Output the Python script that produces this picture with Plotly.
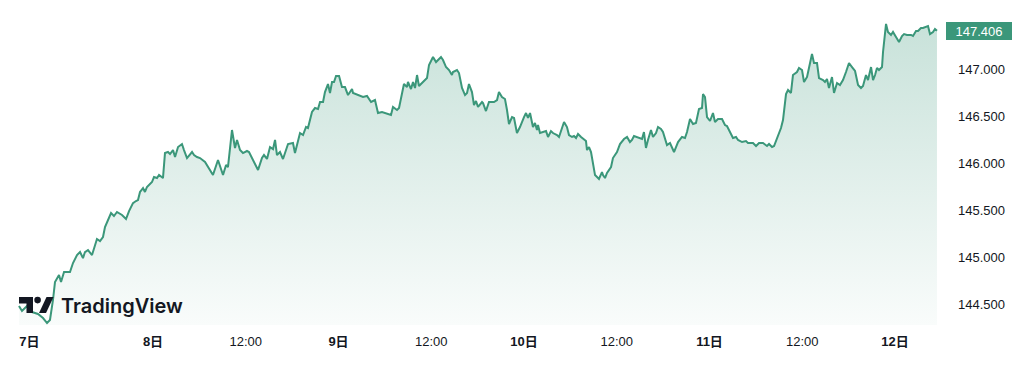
import plotly.graph_objects as go

# Hours elapsed since 7日 00:00 (JST) and USD/JPY price
hours = [6.66, 7.05, 7.70, 8.35, 9.12, 9.77, 10.29, 10.67, 11.06, 11.32, 11.84, 12.10, 12.49, 13.26, 13.65,
         14.17, 14.56, 14.94, 15.20, 15.59, 16.11, 16.50, 16.75, 17.14, 17.53, 17.79, 18.18, 18.57, 18.95,
         19.34, 19.99, 20.51, 20.90, 21.41, 21.80, 22.06, 22.32, 22.71, 22.96, 23.22, 23.87, 24.13, 24.52,
         24.78, 25.29, 25.55, 25.94, 26.20, 26.59, 26.85, 27.24, 27.75, 28.01, 28.40, 29.05, 29.31, 29.69,
         30.08, 30.73, 31.12, 31.76, 32.41, 33.06, 33.45, 33.70, 34.22, 34.61, 34.87, 35.26, 35.64, 36.16,
         36.42, 36.94, 37.59, 38.10, 38.36, 38.75, 39.14, 39.53, 39.79, 40.04, 40.43, 40.82, 41.47, 42.11,
         42.37, 43.02, 43.41, 43.80, 44.05, 44.57, 44.96, 45.35, 45.61, 46.00, 46.25, 46.64, 46.90, 47.16,
         47.42, 47.68, 48.07, 48.45, 48.84, 49.23, 49.75, 49.88, 50.52, 51.17, 51.69, 52.21, 52.72, 53.11,
         53.63, 54.28, 54.79, 55.05, 55.57, 55.83, 56.21, 56.47, 56.86, 56.99, 57.38, 57.64, 57.90, 58.16,
         58.41, 58.93, 59.45, 59.71, 60.10, 60.23, 60.62, 61.26, 61.52, 61.91, 62.30, 62.68, 62.81, 63.33,
         63.59, 63.98, 64.37, 64.63, 64.88, 65.27, 65.53, 65.79, 66.05, 66.57, 66.70, 67.08, 67.47, 68.12,
         68.51, 68.76, 69.15, 69.54, 69.80, 70.06, 70.45, 70.71, 71.09, 71.48, 72.00, 72.26, 72.52, 72.78,
         73.16, 73.42, 73.68, 73.81, 74.07, 74.46, 74.85, 75.11, 75.49, 75.75, 76.27, 76.53, 76.92, 77.18,
         77.56, 77.82, 78.21, 78.47, 78.73, 78.99, 79.38, 79.76, 80.02, 80.15, 80.41, 80.67, 80.93, 81.19,
         81.45, 81.70, 82.09, 82.22, 82.48, 82.74, 83.26, 83.51, 84.03, 84.42, 84.94, 85.33, 85.71, 85.97,
         86.23, 86.62, 87.27, 87.52, 87.78, 88.04, 88.43, 88.69, 89.08, 89.34, 89.72, 89.98, 90.50, 90.89,
         91.41, 91.93, 92.44, 92.83, 93.09, 93.48, 93.87, 94.25, 94.64, 95.03, 95.16, 95.42, 95.68, 96.07,
         96.45, 96.71, 97.10, 97.62, 98.00, 98.26, 98.65, 99.04, 99.43, 99.69, 100.21, 100.72, 100.98,
         101.63, 102.02, 102.41, 102.92, 103.44, 103.70, 104.09, 104.35, 104.73, 105.25, 105.51, 105.90,
         106.16, 106.54, 106.80, 107.32, 107.58, 107.97, 108.23, 108.62, 108.87, 109.26, 109.52, 109.91,
         110.17, 110.69, 110.94, 111.20, 111.46, 111.85, 112.11, 112.50, 112.88, 113.27, 113.66, 114.05,
         114.44, 114.83, 115.22, 115.60, 115.86, 116.25, 116.51, 116.90, 117.16, 117.42, 117.67, 117.93,
         118.32, 118.45, 118.84, 119.09, 119.48, 119.74, 120.13, 120.52, 120.91, 121.17, 121.55, 122.07,
         122.33, 122.72, 122.98, 123.36, 123.62, 124.01, 124.27, 124.53, 124.92, 125.17, 125.43]

prices = [144.479, 144.426, 144.479, 144.415, 144.394, 144.351, 144.298, 144.330, 144.543, 144.734, 144.808,
          144.734, 144.840, 144.840, 144.936, 145.021, 145.053, 144.989, 145.053, 145.074, 145.021, 145.128,
          145.192, 145.170, 145.213, 145.319, 145.394, 145.468, 145.436, 145.479, 145.447, 145.404, 145.489,
          145.574, 145.596, 145.606, 145.692, 145.734, 145.692, 145.745, 145.798, 145.851, 145.840, 145.872,
          145.840, 146.106, 146.117, 146.096, 146.138, 146.064, 146.170, 146.202, 146.138, 146.053, 146.117,
          146.085, 146.064, 146.053, 146.011, 145.957, 145.872, 146.032, 145.872, 145.979, 145.957, 146.351,
          146.160, 146.245, 146.138, 146.106, 146.128, 146.117, 146.032, 145.926, 146.053, 146.085, 146.043,
          146.170, 146.149, 146.245, 146.085, 146.117, 146.043, 146.202, 146.213, 146.106, 146.319, 146.298,
          146.383, 146.372, 146.543, 146.585, 146.574, 146.649, 146.649, 146.755, 146.840, 146.745, 146.862,
          146.862, 146.926, 146.926, 146.808, 146.808, 146.723, 146.787, 146.745, 146.723, 146.702, 146.713,
          146.649, 146.670, 146.532, 146.543, 146.521, 146.511, 146.596, 146.564, 146.585, 146.723, 146.840,
          146.808, 146.862, 146.787, 146.862, 146.798, 146.936, 146.819, 146.862, 146.904, 147.043, 147.096,
          147.128, 147.074, 147.128, 147.096, 147.021, 146.989, 146.936, 146.968, 146.989, 146.957, 146.798,
          146.723, 146.745, 146.840, 146.755, 146.617, 146.660, 146.596, 146.649, 146.638, 146.553, 146.649,
          146.649, 146.670, 146.755, 146.702, 146.681, 146.564, 146.415, 146.489, 146.479, 146.319, 146.383,
          146.489, 146.532, 146.479, 146.532, 146.383, 146.426, 146.351, 146.404, 146.319, 146.330, 146.340,
          146.277, 146.340, 146.319, 146.298, 146.277, 146.383, 146.436, 146.383, 146.298, 146.277, 146.287,
          146.266, 146.309, 146.277, 146.255, 146.234, 146.138, 146.170, 146.117, 146.011, 145.872, 145.851,
          145.830, 145.904, 145.872, 145.840, 145.894, 145.957, 146.053, 146.117, 146.202, 146.255, 146.277,
          146.223, 146.245, 146.287, 146.277, 146.255, 146.330, 146.160, 146.245, 146.351, 146.277, 146.319,
          146.383, 146.362, 146.330, 146.191, 146.213, 146.117, 146.223, 146.277, 146.266, 146.330, 146.468,
          146.415, 146.426, 146.574, 146.585, 146.734, 146.702, 146.489, 146.447, 146.532, 146.436, 146.468,
          146.468, 146.404, 146.394, 146.330, 146.266, 146.277, 146.245, 146.223, 146.234, 146.213, 146.213,
          146.181, 146.213, 146.213, 146.181, 146.202, 146.170, 146.181, 146.266, 146.372, 146.457, 146.734,
          146.777, 146.745, 146.936, 146.968, 147.011, 146.989, 146.862, 146.915, 147.011, 147.160, 147.064,
          147.064, 146.904, 146.883, 146.862, 146.894, 146.798, 146.915, 146.745, 146.851, 146.830, 146.883,
          146.968, 147.064, 147.021, 146.979, 146.830, 146.798, 146.819, 146.936, 146.883, 147.021, 146.883,
          146.936, 147.011, 146.989, 147.021, 147.181, 147.479, 147.394, 147.362, 147.394, 147.340, 147.287,
          147.351, 147.372, 147.362, 147.362, 147.351, 147.404, 147.404, 147.436, 147.436, 147.447, 147.457,
          147.372, 147.394, 147.425, 147.406]

x_tick_hours = [8, 24, 36, 48, 60, 72, 84, 96, 108, 120]
x_tick_text = ["<b>7日</b>", "<b>8日</b>", "12:00", "<b>9日</b>", "12:00", "<b>10日</b>", "12:00",
               "<b>11日</b>", "12:00", "<b>12日</b>"]
y_tick_vals = [144.5, 145.0, 145.5, 146.0, 146.5, 147.0]
y_tick_text = ["144.500", "145.000", "145.500", "146.000", "146.500", "147.000"]
last_price_label = "147.406"

GREEN = "#3b977a"
FONT = "Liberation Sans, Noto Sans CJK JP, sans-serif"
# the page body adds an 8px offset; the figure is sized to fill the rest of the window
OFF = 8
W, H = 1024 - OFF, 380 - OFF
ML, MR, MT, MB = 0, 80, 0, 55
PW, PH = W - ML - MR, H - MT - MB
Y_RANGE = [144.277, 147.649]
X_RANGE = [5.240, 126.34]

fig = go.Figure()
fig.add_trace(go.Scatter(
    x=hours, y=prices, mode="lines",
    line=dict(color=GREEN, width=2),
    fill="tozeroy",
    fillgradient=dict(type="vertical", start=Y_RANGE[0], stop=147.734,
                      colorscale=[[0, "rgba(59,151,122,0.03)"], [1, "rgba(59,151,122,0.30)"]]),
    hoverinfo="skip", showlegend=False,
))

# TradingView logo (decoration), positioned in window pixels
def px(x):
    return (x - OFF) / PW

def py(y):
    return (PH + OFF - y) / PH

t_path = ("M {},{} L {},{} L {},{} L {},{} L {},{} L {},{} Z".format(
    px(19), py(297), px(33), py(297), px(33), py(313), px(26.5), py(313), px(26.5), py(303.5), px(19), py(303.5)))
slash_path = "M {},{} L {},{} L {},{} L {},{} Z".format(
    px(39), py(313), px(46), py(313), px(53.5), py(297), px(46.5), py(297))
shapes = [
    dict(type="path", xref="paper", yref="paper", path=t_path, fillcolor="#131722", line=dict(width=0)),
    dict(type="path", xref="paper", yref="paper", path=slash_path, fillcolor="#131722", line=dict(width=0)),
    dict(type="circle", xref="paper", yref="paper", x0=px(34.3), x1=px(40.9), y0=py(303.4), y1=py(296.8),
         fillcolor="#131722", line=dict(width=0)),
]

annotations = [
    dict(text="TradingView", xref="paper", yref="paper", x=px(59), y=py(305.5), xanchor="left",
         yanchor="middle", showarrow=False,
         font=dict(family="Inter, Noto Sans, sans-serif", size=20, color="#131722", weight=600)),
    dict(text=last_price_label, xref="paper", yref="y", x=1, y=prices[-1], xanchor="left", yanchor="middle",
         xshift=2, showarrow=False, width=66, height=18, borderpad=0, borderwidth=0, bgcolor=GREEN,
         font=dict(family=FONT, size=13, color="white")),
]

fig.update_layout(
    width=W, height=H,
    margin=dict(l=ML, r=MR, t=MT, b=MB, pad=0),
    paper_bgcolor="white", plot_bgcolor="white",
    shapes=shapes, annotations=annotations,
    xaxis=dict(range=X_RANGE, tickmode="array", tickvals=x_tick_hours, ticktext=x_tick_text,
               showgrid=False, zeroline=False, showline=False, ticks="", ticklabelstandoff=7,
               tickfont=dict(family=FONT, size=13, color="#131722"), fixedrange=True),
    yaxis=dict(range=Y_RANGE, side="right", tickmode="array", tickvals=y_tick_vals, ticktext=y_tick_text,
               showgrid=False, zeroline=False, showline=False, ticks="", ticklabelstandoff=13,
               tickfont=dict(family=FONT, size=13, color="#131722"), fixedrange=True),
)

fig.write_html("out.html", config={"displayModeBar": False})
